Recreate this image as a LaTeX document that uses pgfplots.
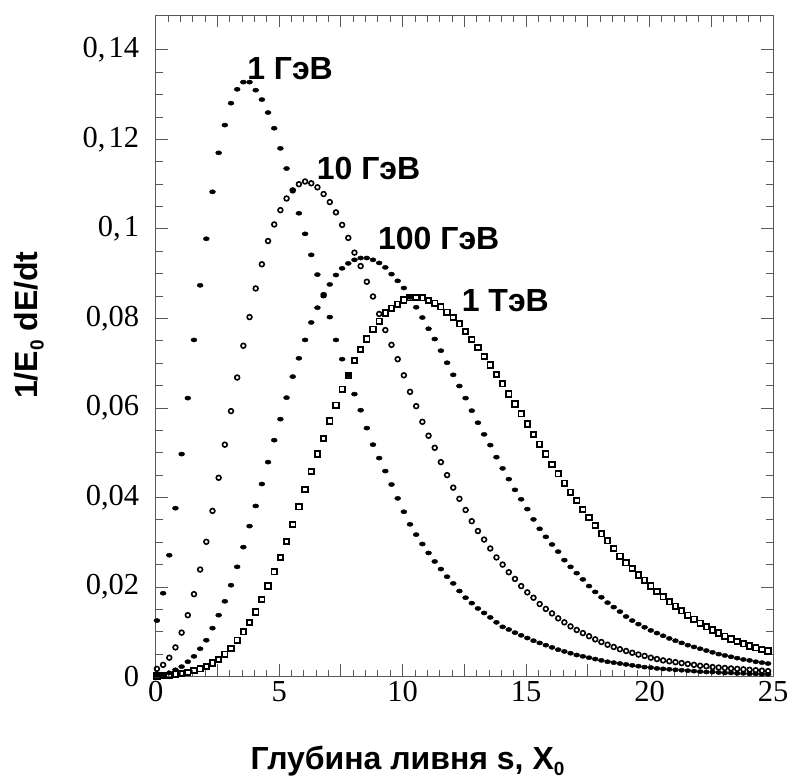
\documentclass[border=0pt]{standalone}
\usepackage{fontspec}
\setmainfont{Liberation Serif}
\newfontfamily\sansb{Liberation Sans}
\usepackage{pgfplots}
\pgfplotsset{compat=1.18}
\usepackage{pgfplotstable}
\pgfplotstableread{
x g1 g10 g100 t1
0.05 0.0125 0.0017 0.0002 0.0001
0.30 0.0186 0.0026 0.0004 0.0002
0.55 0.0271 0.0042 0.0008 0.0003
0.80 0.0376 0.0065 0.0015 0.0005
1.05 0.0497 0.0098 0.0022 0.0007
1.30 0.0622 0.0137 0.0033 0.0009
1.55 0.0752 0.0184 0.0045 0.0013
1.80 0.0874 0.0239 0.0062 0.0017
2.05 0.0978 0.0301 0.0081 0.0022
2.30 0.1083 0.0370 0.0108 0.0030
2.55 0.1170 0.0444 0.0137 0.0038
2.80 0.1232 0.0518 0.0168 0.0050
3.05 0.1281 0.0593 0.0204 0.0063
3.30 0.1312 0.0668 0.0245 0.0081
3.55 0.1328 0.0739 0.0289 0.0100
3.80 0.1328 0.0803 0.0336 0.0121
4.05 0.1310 0.0867 0.0381 0.0144
4.30 0.1289 0.0921 0.0430 0.0172
4.55 0.1260 0.0973 0.0479 0.0202
4.80 0.1225 0.1010 0.0528 0.0234
5.05 0.1180 0.1042 0.0575 0.0266
5.30 0.1135 0.1068 0.0623 0.0302
5.55 0.1087 0.1086 0.0670 0.0340
5.80 0.1035 0.1100 0.0711 0.0379
6.05 0.0989 0.1106 0.0752 0.0418
6.30 0.0942 0.1102 0.0791 0.0458
6.55 0.0898 0.1093 0.0824 0.0497
6.80 0.0850 0.1078 0.0854 0.0532
7.05 0.0803 0.1060 0.0876 0.0571
7.30 0.0752 0.1037 0.0897 0.0606
7.55 0.0709 0.1009 0.0912 0.0642
7.80 0.0672 0.0980 0.0923 0.0672
8.05 0.0631 0.0947 0.0931 0.0706
8.30 0.0595 0.0917 0.0935 0.0731
8.55 0.0555 0.0882 0.0935 0.0754
8.80 0.0518 0.0849 0.0931 0.0776
9.05 0.0488 0.0810 0.0924 0.0794
9.30 0.0459 0.0774 0.0914 0.0812
9.55 0.0429 0.0741 0.0899 0.0823
9.80 0.0398 0.0709 0.0884 0.0832
10.05 0.0368 0.0673 0.0868 0.0841
10.30 0.0340 0.0636 0.0847 0.0846
10.55 0.0317 0.0604 0.0825 0.0847
10.80 0.0296 0.0569 0.0802 0.0846
11.05 0.0276 0.0538 0.0777 0.0840
11.30 0.0257 0.0511 0.0754 0.0834
11.55 0.0240 0.0479 0.0728 0.0826
11.80 0.0223 0.0450 0.0701 0.0814
12.05 0.0208 0.0422 0.0674 0.0802
12.30 0.0191 0.0397 0.0649 0.0788
12.55 0.0176 0.0372 0.0622 0.0771
12.80 0.0164 0.0347 0.0594 0.0753
13.05 0.0152 0.0325 0.0567 0.0735
13.30 0.0142 0.0306 0.0541 0.0715
13.55 0.0132 0.0286 0.0517 0.0696
13.80 0.0121 0.0266 0.0490 0.0675
14.05 0.0111 0.0250 0.0465 0.0654
14.30 0.0105 0.0233 0.0441 0.0631
14.55 0.0098 0.0218 0.0417 0.0609
14.80 0.0092 0.0202 0.0396 0.0587
15.05 0.0086 0.0188 0.0374 0.0564
15.30 0.0080 0.0176 0.0351 0.0541
15.55 0.0075 0.0162 0.0330 0.0519
15.80 0.0070 0.0151 0.0312 0.0497
16.05 0.0065 0.0141 0.0295 0.0474
16.30 0.0060 0.0130 0.0279 0.0453
16.55 0.0056 0.0121 0.0260 0.0432
16.80 0.0052 0.0112 0.0245 0.0412
17.05 0.0048 0.0104 0.0231 0.0393
17.30 0.0045 0.0097 0.0217 0.0373
17.55 0.0042 0.0090 0.0202 0.0355
17.80 0.0039 0.0083 0.0189 0.0337
18.05 0.0036 0.0077 0.0177 0.0319
18.30 0.0033 0.0071 0.0165 0.0303
18.55 0.0031 0.0066 0.0155 0.0286
18.80 0.0029 0.0061 0.0145 0.0269
19.05 0.0027 0.0057 0.0134 0.0254
19.30 0.0025 0.0053 0.0125 0.0241
19.55 0.0023 0.0049 0.0117 0.0227
19.80 0.0021 0.0046 0.0110 0.0215
20.05 0.0020 0.0042 0.0103 0.0202
20.30 0.0018 0.0039 0.0097 0.0190
20.55 0.0017 0.0036 0.0091 0.0178
20.80 0.0016 0.0034 0.0085 0.0167
21.05 0.0015 0.0032 0.0080 0.0157
21.30 0.0014 0.0030 0.0075 0.0147
21.55 0.0013 0.0028 0.0070 0.0137
21.80 0.0012 0.0026 0.0066 0.0128
22.05 0.0011 0.0024 0.0062 0.0119
22.30 0.0010 0.0023 0.0058 0.0111
22.55 0.0010 0.0021 0.0054 0.0104
22.80 0.0009 0.0020 0.0050 0.0097
23.05 0.0008 0.0019 0.0047 0.0090
23.30 0.0008 0.0018 0.0044 0.0084
23.55 0.0007 0.0017 0.0041 0.0078
23.80 0.0007 0.0016 0.0038 0.0073
24.05 0.0006 0.0015 0.0036 0.0068
24.30 0.0006 0.0014 0.0033 0.0064
24.55 0.0005 0.0013 0.0031 0.0060
24.80 0.0005 0.0012 0.0029 0.0057
}\showers
\newcommand\labfont{\sansb\bfseries\fontsize{32}{35}\selectfont}
\newcommand\sub[1]{\raisebox{-0.18em}{\fontsize{19}{19}\selectfont #1}}
\begin{document}
\begin{tikzpicture}
\useasboundingbox (0,0) rectangle (791pt,781pt);
\begin{axis}[
  at={(155.7pt,104.5pt)}, anchor=south west,
  scale only axis, width=617.3pt, height=661.5pt,
  xmin=0, xmax=25, ymin=0, ymax=0.1478,
  xtick={0,2.5,5,7.5,10,12.5,15,17.5,20,22.5,25},
  xticklabels={0,,5,,10,,15,,20,,25},
  ytick={0,0.02,0.04,0.06,0.08,0.1,0.12,0.14},
  yticklabels={0,{0,02},{0,04},{0,06},{0,08},{0,\hspace{0.1em}1},{0,\hspace{0.1em}12},{0,\hspace{0.1em}14}},
  minor x tick num=4, minor y tick num=3,
  tick align=inside,
  major tick length=12.5pt, minor tick length=7pt,
  axis line style={black!65, line width=0.9pt},
  every tick/.style={black!65, line width=0.9pt},
  tick label style={font=\fontsize{30.5}{32}\selectfont},
  yticklabel style={xshift=-13pt},
  xticklabel style={yshift=-1pt},
  xlabel={Глубина ливня s, X\sub{0}},
  ylabel={1/E\sub{0} dE/dt},
  label style={font=\labfont},
  xlabel style={at={(axis description cs:0.408,-0.1413)}, anchor=base},
  ylabel style={at={(axis description cs:-0.205,0.531)}, anchor=center},
]
\addplot[only marks, mark=*, mark size=3pt, mark options={black, yscale=0.7}] table[x=x,y=g1]{\showers};
\addplot[only marks, mark=o, mark size=2.4pt, mark options={black, line width=1.6pt}] table[x=x,y=g10]{\showers};
\addplot[only marks, mark=*, mark size=3pt, mark options={black, yscale=0.7}] table[x=x,y=g100]{\showers};
\addplot[only marks, mark=square, mark size=2.7pt, mark options={black, line width=1.8pt}] table[x=x,y=t1]{\showers};
\node[anchor=base west, inner sep=0pt, font=\labfont] at (axis cs:3.7,0.1333) {1 ГэВ};
\node[anchor=base west, inner sep=0pt, font=\labfont] at (axis cs:6.52,0.1111) {10 ГэВ};
\node[anchor=base west, inner sep=0pt, font=\labfont] at (axis cs:9.0,0.0955) {100 ГэВ};
\node[anchor=base west, inner sep=0pt, font=\labfont] at (axis cs:12.39,0.0815) {1 ТэВ};
\end{axis}
\end{tikzpicture}
\end{document}
